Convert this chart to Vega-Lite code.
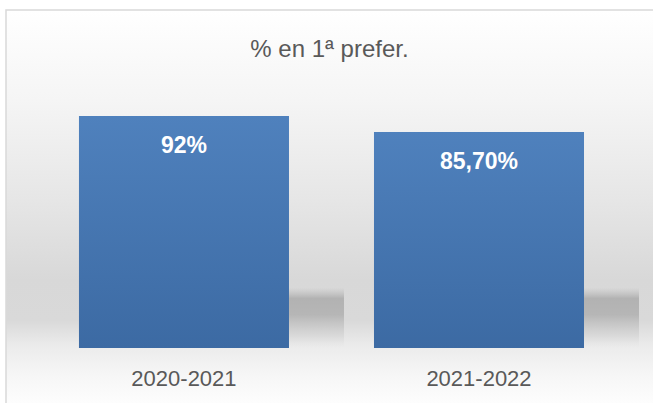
{
  "$schema": "https://vega.github.io/schema/vega-lite/v6.json",
  "autosize": "none",
  "width": 647,
  "height": 393,
  "padding": {"left": 6, "top": 10, "right": 0, "bottom": 0},
  "background": "#ffffff",
  "title": {
    "text": "% en 1ª prefer.",
    "font": "Liberation Sans",
    "fontSize": 24,
    "fontWeight": "normal",
    "color": "#595959",
    "anchor": "middle",
    "baseline": "alphabetic",
    "offset": -47,
    "dy": 24
  },
  "data": {
    "values": [
      {"year": "2020-2021", "value": 92, "label": "92%"},
      {"year": "2021-2022", "value": 85.7, "label": "85,70%"}
    ]
  },
  "encoding": {
    "x": {
      "field": "year",
      "type": "nominal",
      "sort": null,
      "scale": {"paddingInner": 0.2881, "paddingOuter": 0.2406, "align": 0.514},
      "axis": {
        "title": null,
        "domain": false,
        "ticks": false,
        "labelAngle": 0,
        "labelFont": "Liberation Sans",
        "labelFontSize": 22,
        "labelColor": "#595959",
        "labelBaseline": "alphabetic",
        "labelPadding": 0,
        "offset": -18
      }
    },
    "y": {
      "field": "value",
      "type": "quantitative",
      "scale": {"domain": [-21.81, 134.04], "nice": false, "zero": false},
      "axis": null
    }
  },
  "layer": [
    {
      "mark": {
        "type": "bar",
        "xOffset": 55,
        "color": {
          "gradient": "linear",
          "x1": 0, "y1": 0, "x2": 0, "y2": 1,
          "stops": [
            {"offset": 0, "color": "rgba(190,190,190,0)"},
            {"offset": 0.18, "color": "rgba(178,178,178,1)"},
            {"offset": 0.45, "color": "rgba(182,182,182,1)"},
            {"offset": 0.8, "color": "rgba(210,210,210,0.6)"},
            {"offset": 1, "color": "rgba(225,225,225,0)"}
          ]
        }
      },
      "encoding": {
        "y": {"datum": 24, "type": "quantitative", "scale": {"domain": [-21.81, 134.04], "nice": false, "zero": false}, "axis": null},
        "y2": {"datum": 0}
      }
    },
    {
      "mark": {
        "type": "bar",
        "color": {
          "gradient": "linear",
          "x1": 0, "y1": 0, "x2": 0, "y2": 1,
          "stops": [
            {"offset": 0, "color": "#4F81BD"},
            {"offset": 1, "color": "#3C6AA3"}
          ]
        }
      }
    },
    {
      "mark": {
        "type": "text",
        "font": "Liberation Sans",
        "fontSize": 23,
        "fontWeight": "bold",
        "color": "#ffffff",
        "baseline": "middle",
        "dy": 30
      },
      "encoding": {"text": {"field": "label"}}
    }
  ],
  "config": {
    "view": {
      "stroke": "#d9d9d9",
      "strokeWidth": 1.5,
      "strokeDash": [647, 1040, 393, 10],
      "fill": {
        "gradient": "linear",
        "x1": 0, "y1": 0, "x2": 0, "y2": 1,
        "stops": [
          {"offset": 0, "color": "#ffffff"},
          {"offset": 0.229, "color": "#f5f5f5"},
          {"offset": 0.483, "color": "#e6e6e6"},
          {"offset": 0.687, "color": "#d8d8d8"},
          {"offset": 0.79, "color": "#d9d9d9"},
          {"offset": 0.852, "color": "#ebebeb"},
          {"offset": 0.929, "color": "#f6f6f6"},
          {"offset": 1, "color": "#fdfdfd"}
        ]
      }
    }
  }
}
